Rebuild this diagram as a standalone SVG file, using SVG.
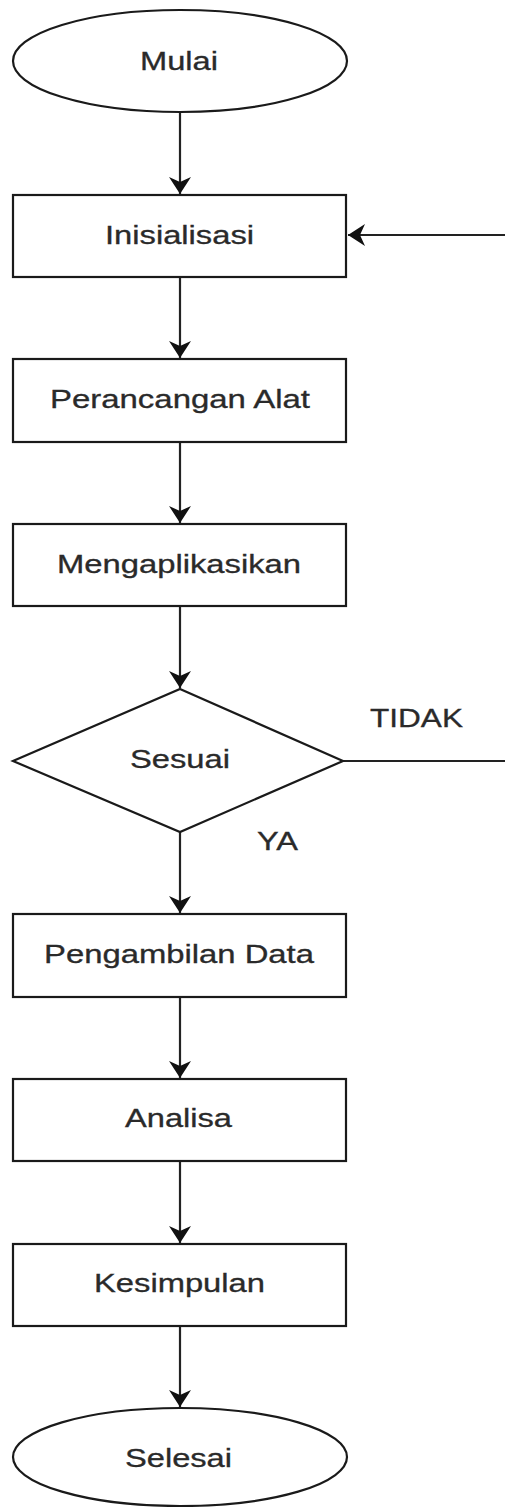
<svg xmlns="http://www.w3.org/2000/svg" width="505" height="1507" viewBox="0 0 505 1507">
<style>
.shape{fill:#fff;stroke:#1a1a1a;stroke-width:2.2}
.edge{fill:none;stroke:#222;stroke-width:2.2}
.lbl{font-family:"Liberation Sans",Arial,sans-serif;font-size:25px;fill:#2a2a2a;stroke:#2a2a2a;stroke-width:0.3}
</style>
<defs>
<marker id="arr" markerUnits="userSpaceOnUse" markerWidth="18" markerHeight="22" refX="17" refY="11" orient="auto">
<path d="M0,0 L17,11 L0,22 L5,11 z" fill="#111"/>
</marker>
</defs>
<rect width="505" height="1507" fill="#fff"/>
<g id="connectors">
<line class="edge" x1="180" y1="112" x2="180" y2="194" marker-end="url(#arr)"/>
<line class="edge" x1="505" y1="235" x2="348" y2="235" marker-end="url(#arr)"/>
<line class="edge" x1="180" y1="277" x2="180" y2="358" marker-end="url(#arr)"/>
<line class="edge" x1="180" y1="442" x2="180" y2="523" marker-end="url(#arr)"/>
<line class="edge" x1="180" y1="606" x2="180" y2="688" marker-end="url(#arr)"/>
<line class="edge" x1="343" y1="761" x2="505" y2="761"/>
<line class="edge" x1="180" y1="832" x2="180" y2="913" marker-end="url(#arr)"/>
<line class="edge" x1="180" y1="997" x2="180" y2="1078" marker-end="url(#arr)"/>
<line class="edge" x1="180" y1="1161" x2="180" y2="1243" marker-end="url(#arr)"/>
<line class="edge" x1="180" y1="1326" x2="180" y2="1407" marker-end="url(#arr)"/>
<text class="lbl" x="370" y="727" font-size="24" textLength="93" lengthAdjust="spacingAndGlyphs">TIDAK</text>
<text class="lbl" x="257" y="850" font-size="24" textLength="41" lengthAdjust="spacingAndGlyphs">YA</text>
</g>
<g id="mulai">
<ellipse class="shape" cx="180" cy="61" rx="167" ry="51"/>
<text class="lbl" x="140" y="70" textLength="78" lengthAdjust="spacingAndGlyphs">Mulai</text>
</g>
<g id="inisialisasi">
<rect class="shape" x="13" y="195" width="333" height="82"/>
<text class="lbl" x="105" y="244" textLength="149" lengthAdjust="spacingAndGlyphs">Inisialisasi</text>
</g>
<g id="perancangan">
<rect class="shape" x="13" y="359" width="333" height="83"/>
<text class="lbl" x="50" y="408" textLength="260" lengthAdjust="spacingAndGlyphs">Perancangan Alat</text>
</g>
<g id="mengaplikasikan">
<rect class="shape" x="13" y="524" width="333" height="82"/>
<text class="lbl" x="57" y="573" textLength="244" lengthAdjust="spacingAndGlyphs">Mengaplikasikan</text>
</g>
<g id="sesuai">
<polygon class="shape" points="180,689 343,761 180,832 13,761"/>
<text class="lbl" x="130" y="768" textLength="100" lengthAdjust="spacingAndGlyphs">Sesuai</text>
</g>
<g id="pengambilan">
<rect class="shape" x="13" y="914" width="333" height="83"/>
<text class="lbl" x="44" y="963" textLength="270" lengthAdjust="spacingAndGlyphs">Pengambilan Data</text>
</g>
<g id="analisa">
<rect class="shape" x="13" y="1079" width="333" height="82"/>
<text class="lbl" x="125" y="1127" textLength="107" lengthAdjust="spacingAndGlyphs">Analisa</text>
</g>
<g id="kesimpulan">
<rect class="shape" x="13" y="1244" width="333" height="82"/>
<text class="lbl" x="94" y="1292" textLength="171" lengthAdjust="spacingAndGlyphs">Kesimpulan</text>
</g>
<g id="selesai">
<ellipse class="shape" cx="180" cy="1457" rx="167" ry="49"/>
<text class="lbl" x="125" y="1467" textLength="107" lengthAdjust="spacingAndGlyphs">Selesai</text>
</g>
</svg>
